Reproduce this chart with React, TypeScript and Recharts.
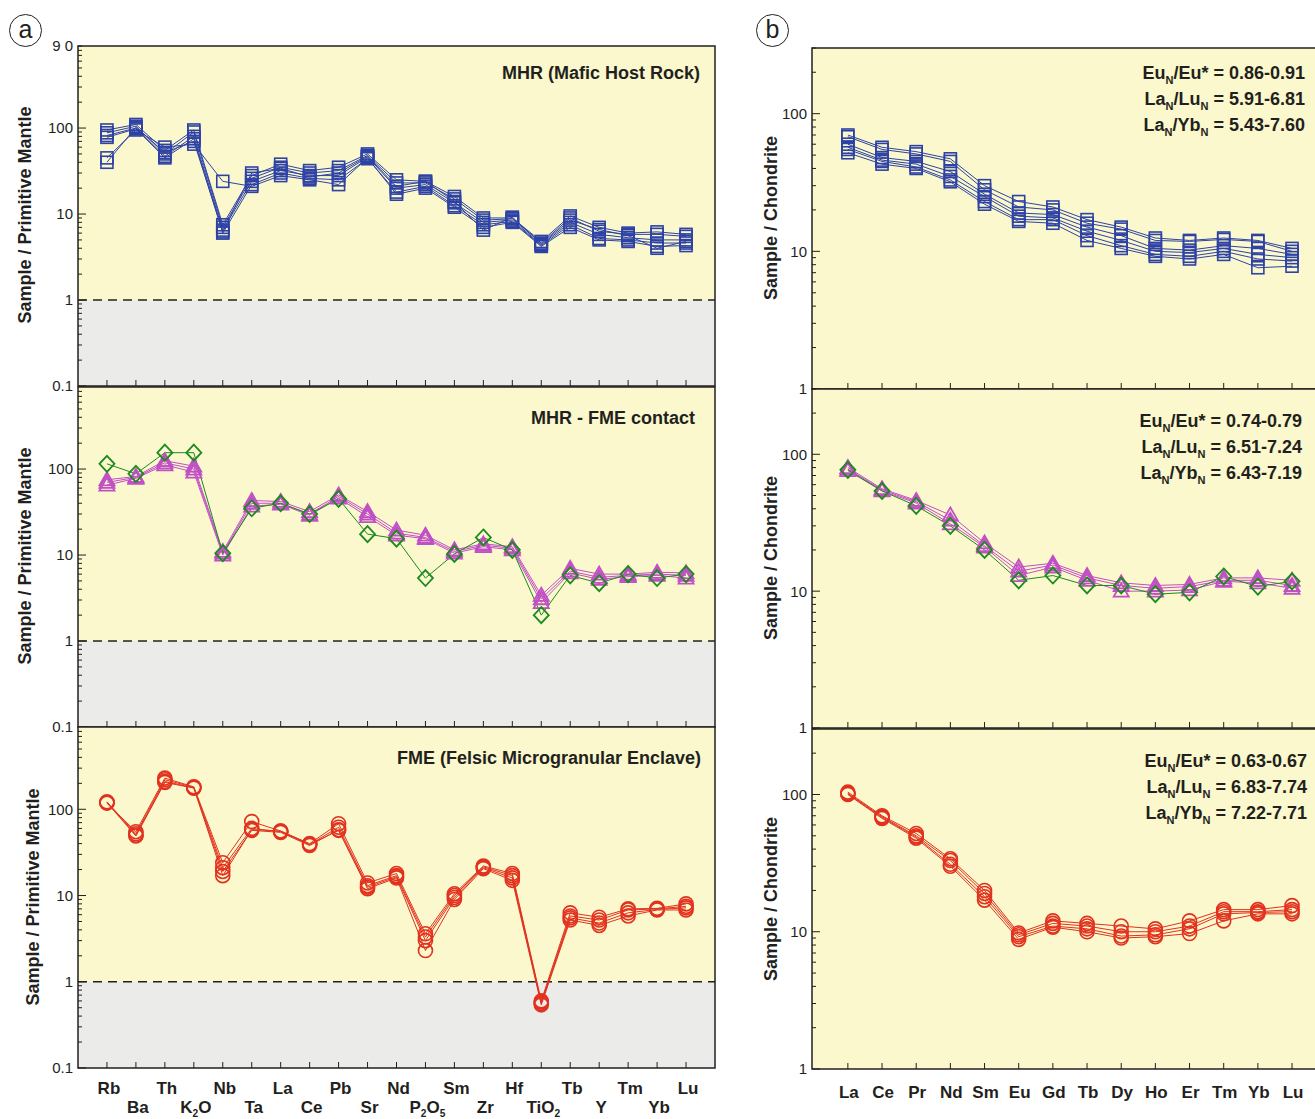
import React from 'react';
import { LineChart, Line, XAxis, YAxis, ReferenceArea, ReferenceLine } from 'recharts';

// ---------- categories ----------
const spiderElements = ['Rb', 'Ba', 'Th', 'K2O', 'Nb', 'Ta', 'La', 'Ce', 'Pb', 'Sr', 'Nd', 'P2O5', 'Sm', 'Zr', 'Hf', 'TiO2', 'Tb', 'Y', 'Tm', 'Yb', 'Lu'];
const reeElements = ['La', 'Ce', 'Pr', 'Nd', 'Sm', 'Eu', 'Gd', 'Tb', 'Dy', 'Ho', 'Er', 'Tm', 'Yb', 'Lu'];

// ---------- tick labels ----------
const spiderMajorTicks = [0.1, 1, 10, 100];
const spiderMajorLabels = ['0.1', '1', '10', '100'];
const spiderMinorTicks = [0.2, 0.3, 0.4, 0.5, 0.6, 0.7, 0.8, 0.9, 2, 3, 4, 5, 6, 7, 8, 9, 20, 30, 40, 50, 60, 70, 80, 90, 200, 300, 400, 500, 600, 700, 800];
const spiderTopTick = 900;
const spiderTopLabel = '9 0';
const reeMajorTicks = [1, 10, 100];
const reeMajorLabels = ['1', '10', '100'];
const reeMinorTicks = [2, 3, 4, 5, 6, 7, 8, 9, 20, 30, 40, 50, 60, 70, 80, 90, 200, 300];

// ---------- MHR spider (primitive mantle normalised) ----------
const mhrSpider1 = [95, 110, 55, 95, 7.5, 28, 38, 32, 35, 50, 25, 24, 16, 9, 9, 4.8, 9.5, 7, 6, 6.2, 5.8];
const mhrSpider2 = [88, 105, 50, 90, 7, 26, 35, 30, 32, 48, 23, 23, 15, 8.5, 8.8, 4.6, 9, 6.3, 5.8, 5.8, 5.5];
const mhrSpider3 = [82, 100, 47, 80, 6.5, 24, 32, 28, 28, 46, 20, 22, 13.5, 8, 8.5, 4.4, 8, 5.8, 5.3, 5, 5];
const mhrSpider4 = [78, 98, 45, 75, 6, 22, 30, 26, 25, 44, 18, 21, 12.5, 7.5, 8.2, 4.3, 7.5, 5.2, 5, 4.6, 4.6];
const mhrSpider5 = [45, 95, 60, 65, 24, 21, 28, 25, 22, 45, 17, 20, 12, 7, 8, 4.2, 7, 5, 4.8, 4.2, 4.3];
const mhrSpider6 = [40, 102, 52, 70, 6.2, 30, 34, 27, 30, 47, 21, 24, 14, 6.5, 9.2, 4.5, 8.5, 6.6, 5.6, 4, 4.8];

// ---------- MHR-FME contact spider ----------
const contactSpiderGreen = [115, 88, 155, 155, 10.5, 35, 40, 30, 45, 17.5, 15.5, 5.4, 10.3, 16, 11.5, 2.0, 5.8, 4.7, 6, 5.4, 6];
const contactSpiderMag1 = [75, 82, 125, 108, 11, 43, 42, 32, 50, 32, 19.5, 17, 11.5, 13.5, 12.5, 3.4, 7, 6, 6, 6.3, 6.2];
const contactSpiderMag2 = [70, 80, 118, 100, 10.5, 40, 40, 30, 48, 30, 18, 16, 11, 13, 12, 3.1, 6.5, 5.5, 5.8, 6, 5.8];
const contactSpiderMag3 = [65, 78, 112, 92, 10, 37, 39, 29, 46, 28, 17, 15.5, 10.5, 12.5, 11.5, 2.8, 6.2, 5.2, 5.6, 5.8, 5.4];

// ---------- FME spider ----------
const fmeSpider1 = [118, 55, 230, 182, 24, 72, 56, 40, 68, 14, 18, 3.6, 10.5, 22, 18, 0.6, 6.3, 5.6, 7, 7.1, 8];
const fmeSpider2 = [122, 52, 220, 180, 21, 60, 55, 39, 62, 13, 17, 3.3, 10, 21.5, 17, 0.58, 5.8, 5.2, 6.8, 7, 7.5];
const fmeSpider3 = [120, 50, 210, 178, 19, 57, 54, 38, 58, 12.5, 16.5, 3.0, 9.5, 21, 16, 0.56, 5.5, 4.8, 6.3, 6.9, 7.2];
const fmeSpider4 = [119, 49, 205, 176, 17, 58, 56, 39, 57, 12, 16, 2.3, 9, 20.5, 15, 0.54, 5.2, 4.5, 5.8, 6.8, 6.8];

// ---------- MHR REE (chondrite normalised) ----------
const mhrRee1 = [70, 57, 53, 47, 30, 23, 21, 17, 15, 12.5, 12, 12.5, 12, 10.5];
const mhrRee2 = [68, 55, 51, 45, 28, 21, 20, 16, 14.5, 12, 11.8, 12.2, 11.8, 10];
const mhrRee3 = [60, 48, 45, 38, 26, 19, 18.5, 15, 13, 10.5, 10.2, 11, 10.5, 9.5];
const mhrRee4 = [57, 46, 43, 35, 25, 18, 17.5, 14, 12, 10, 9.8, 10.5, 9.5, 9];
const mhrRee5 = [55, 45, 41, 33, 23, 17, 17, 13, 11, 9.5, 9.2, 10, 8.8, 8.5];
const mhrRee6 = [52, 43, 40, 32, 22, 16.5, 16, 12, 10.5, 9.2, 8.8, 9.5, 7.6, 7.8];

// ---------- contact REE ----------
const contactReeGreen = [77, 54, 42, 30, 20, 12, 13, 11, 11, 9.5, 9.8, 12.8, 10.8, 11.8];
const contactReeMag1 = [80, 56, 46, 36, 22.5, 15, 16, 13, 11.5, 11, 11.2, 12.5, 12.5, 12];
const contactReeMag2 = [78, 55, 45, 33, 21.5, 14, 15.5, 12.5, 11, 10.5, 10.8, 12, 12, 11];
const contactReeMag3 = [76, 54, 44, 31, 21, 13, 15, 12, 10, 10, 10.2, 11.8, 11.5, 10.5];

// ---------- FME REE ----------
const fmeRee1 = [104, 70, 52, 34, 20, 9.8, 12, 11.5, 11, 10.5, 12, 14.5, 14.5, 15.5];
const fmeRee2 = [102, 69, 50, 33, 19, 9.5, 11.5, 11, 10, 10, 11, 14, 14, 14.5];
const fmeRee3 = [101, 68, 49, 31, 18, 9.2, 11, 10.5, 9.3, 9.5, 10.5, 13.5, 13.8, 14];
const fmeRee4 = [100, 67, 48, 30, 17, 8.8, 10.8, 10, 9, 9.2, 9.7, 12, 13.5, 13.5];

// ---------- styles ----------
const BLUE = '#2E42A6';
const GREEN = '#1B8A1F';
const MAGENTA = '#C14FC6';
const RED = '#E2321F';
const YELLOW = '#FAF8CC';
const GRAY = '#EBECEA';
const INK = '#231F20';
const FONT = '"Liberation Sans", Arial, Helvetica, sans-serif';

type Marker = 'square' | 'diamond' | 'triangle' | 'circle';
type Series = { values: number[]; color: string; marker: Marker };

const makeDot = (marker: Marker, color: string) => (props: any) => {
  const { cx, cy, key, index } = props;
  const k = key ?? `d${index}`;
  if (cx == null || cy == null) return <g key={k} />;
  if (marker === 'square')
    return <rect key={k} x={cx - 6} y={cy - 6} width={12} height={12} fill="none" stroke={color} strokeWidth={1.6} />;
  if (marker === 'diamond')
    return <path key={k} d={`M${cx},${cy - 8}L${cx + 7.5},${cy}L${cx},${cy + 8}L${cx - 7.5},${cy}Z`} fill="none" stroke={color} strokeWidth={1.8} />;
  if (marker === 'triangle')
    return <path key={k} d={`M${cx},${cy - 7.5}L${cx + 7.5},${cy + 5.5}L${cx - 7.5},${cy + 5.5}Z`} fill="none" stroke={color} strokeWidth={1.8} />;
  return <circle key={k} cx={cx} cy={cy} r={7} fill="none" stroke={color} strokeWidth={1.6} />;
};

const chemParts = (label: string) => label.match(/[A-Za-z]+|\d+/g) || [label];

const ChemText = ({ x, y, label, size }: { x: number; y: number; label: string; size: number }) => {
  const parts = chemParts(label);
  let shifted = false;
  return (
    <text x={x} y={y} textAnchor="middle" fontFamily={FONT} fontWeight="bold" fontSize={size} fill={INK}>
      {parts.map((p, j) => {
        const isDigit = /^\d+$/.test(p);
        let dy = 0;
        if (isDigit && !shifted) { dy = 4; shifted = true; }
        else if (!isDigit && shifted) { dy = -4; shifted = false; }
        return (
          <tspan key={j} dy={dy} fontSize={isDigit ? size * 0.6 : size}>{p}</tspan>
        );
      })}
    </text>
  );
};

const makeXTick = (labels: string[], mode: 'none' | 'two' | 'one') => (props: any) => {
  const { x, y, payload, index } = props;
  const i = Math.round(payload.value);
  const label = labels[i];
  let text = null;
  if (mode === 'two') text = <ChemText x={x + 2} y={y + (i % 2 === 0 ? 26 : 45)} label={label} size={17} />;
  if (mode === 'one') text = <ChemText x={x + 1} y={y + 29} label={label} size={17} />;
  return (
    <g key={`xt${index}`}>
      <line x1={x} x2={x} y1={y} y2={y - 6} stroke={INK} strokeWidth={1} />
      {text}
    </g>
  );
};

const makeYTick = (majors: number[], majorLabels: string[], extra?: { v: number; label: string }) => (props: any) => {
  const { x, y, payload, index } = props;
  const v = payload.value;
  let label: string | undefined;
  majors.forEach((m, j) => { if (Math.abs(m - v) / m < 1e-6) label = majorLabels[j]; });
  let len = label !== undefined ? 8 : 4;
  if (extra && Math.abs(extra.v - v) / v < 1e-6) { label = extra.label; len = 4; }
  return (
    <g key={`yt${index}`}>
      <line x1={x} x2={x + len} y1={y} y2={y} stroke={INK} strokeWidth={1} />
      {label !== undefined && (
        <text x={x - 5} y={y} dy="0.36em" textAnchor="end" fontFamily={FONT} fontSize={15} fill={INK}>{label}</text>
      )}
    </g>
  );
};

type PanelProps = {
  left: number; top: number; width: number; height: number; yAxisWidth: number; xAxisHeight: number;
  labels: string[]; xDomain: [number, number]; xMode: 'none' | 'two' | 'one';
  yDomain: [number, number]; yTicks: number[]; majors: number[]; majorLabels: string[];
  extra?: { v: number; label: string }; gray: boolean; series: Series[];
};

function Panel(p: PanelProps) {
  const rows = p.labels.map((el, i) => {
    const r: any = { i, el };
    p.series.forEach((s, k) => { r[`s${k}`] = s.values[i]; });
    return r;
  });
  const xTicks = p.labels.map((_, i) => i);
  return (
    <div style={{ position: 'absolute', left: p.left, top: p.top }}>
      <LineChart width={p.width} height={p.height} data={rows} margin={{ top: 10, right: 2, bottom: 10, left: 0 }}>
        <XAxis dataKey="i" type="number" domain={p.xDomain} ticks={xTicks} interval={0} allowDataOverflow
          axisLine={false} tickLine={false} tickSize={0} tickMargin={0} height={p.xAxisHeight}
          tick={makeXTick(p.labels, p.xMode)} />
        <YAxis type="number" scale="log" domain={p.yDomain} ticks={p.yTicks} interval={0} allowDataOverflow
          axisLine={false} tickLine={false} tickSize={0} tickMargin={0} width={p.yAxisWidth}
          tick={makeYTick(p.majors, p.majorLabels, p.extra)} />
        {p.gray ? (
          <>
            <ReferenceArea x1={p.xDomain[0]} x2={p.xDomain[1]} y1={1} y2={p.yDomain[1]} fill={YELLOW} fillOpacity={1} stroke="none" ifOverflow="visible" />
            <ReferenceArea x1={p.xDomain[0]} x2={p.xDomain[1]} y1={p.yDomain[0]} y2={1} fill={GRAY} fillOpacity={1} stroke="none" ifOverflow="visible" />
            <ReferenceLine y={1} stroke={INK} strokeWidth={1.3} strokeDasharray="9 6" ifOverflow="visible" />
          </>
        ) : (
          <ReferenceArea x1={p.xDomain[0]} x2={p.xDomain[1]} y1={p.yDomain[0]} y2={p.yDomain[1]} fill={YELLOW} fillOpacity={1} stroke="none" ifOverflow="visible" />
        )}
        <ReferenceArea x1={p.xDomain[0]} x2={p.xDomain[1]} y1={p.yDomain[0]} y2={p.yDomain[1]} fill="none" stroke={INK} strokeWidth={1.5} ifOverflow="visible" />
        {p.series.map((s, k) => (
          <Line key={k} dataKey={`s${k}`} stroke={s.color} strokeWidth={1} isAnimationActive={false}
            dot={makeDot(s.marker, s.color)} activeDot={false} type="linear" />
        ))}
      </LineChart>
    </div>
  );
}

const RotLabel = ({ cx, cy, text }: { cx: number; cy: number; text: string }) => (
  <div style={{ position: 'absolute', left: cx, top: cy, transform: 'translate(-50%, -50%) rotate(-90deg)', whiteSpace: 'nowrap', fontFamily: FONT, fontWeight: 'bold', fontSize: 18, color: INK, lineHeight: '20px' }}>{text}</div>
);

const PanelTitle = ({ right, cy, text }: { right: number; cy: number; text: string }) => (
  <div style={{ position: 'absolute', right: 1315 - right, top: cy - 12, whiteSpace: 'nowrap', fontFamily: FONT, fontWeight: 'bold', fontSize: 18, color: INK, lineHeight: '24px' }}>{text}</div>
);

const Sub = ({ t }: { t: string }) => <span style={{ fontSize: 11, position: 'relative', top: 5 }}>{t}</span>;

const Ratios = ({ right, cy, eu, lu, yb }: { right: number; cy: number; eu: string; lu: string; yb: string }) => (
  <div style={{ position: 'absolute', right: 1315 - right, top: cy - 12, whiteSpace: 'nowrap', fontFamily: FONT, fontWeight: 'bold', fontSize: 18, color: INK, lineHeight: '24px', textAlign: 'right' }}>
    <div>Eu<Sub t="N" />/Eu* = {eu}</div>
    <div>La<Sub t="N" />/Lu<Sub t="N" /> = {lu}</div>
    <div>La<Sub t="N" />/Yb<Sub t="N" /> = {yb}</div>
  </div>
);

const CircleTag = ({ cx, cy, t }: { cx: number; cy: number; t: string }) => (
  <div style={{ position: 'absolute', left: cx - 16, top: cy - 16, width: 31, height: 31, border: `1px solid ${INK}`, borderRadius: '50%', fontFamily: FONT, fontSize: 25, lineHeight: '28px', textAlign: 'center', color: INK }}>{t}</div>
);

export default function App() {
  const spiderTicks = [...spiderMajorTicks, ...spiderMinorTicks, spiderTopTick].sort((a, b) => a - b);
  const reeTicks = [...reeMajorTicks, ...reeMinorTicks].sort((a, b) => a - b);
  const leftCommon = {
    left: 0, width: 717, yAxisWidth: 78, labels: spiderElements, xDomain: [-1, 21] as [number, number],
    yDomain: [0.1, 900] as [number, number], yTicks: spiderTicks, majors: spiderMajorTicks, majorLabels: spiderMajorLabels, gray: true,
  };
  const rightCommon = {
    left: 750, width: 570, yAxisWidth: 62, labels: reeElements, xDomain: [-1.05, 13.76] as [number, number],
    yDomain: [1, 300] as [number, number], yTicks: reeTicks, majors: reeMajorTicks, majorLabels: reeMajorLabels, gray: false,
  };
  const topSpider = spiderTicks.filter((v) => v !== spiderTopTick);
  return (
    <div style={{ position: 'absolute', left: 0, top: 0, width: 1315, height: 1119, overflow: 'hidden', background: '#fff' }}>
      {/* left column */}
      <Panel {...leftCommon} top={36} height={361} xAxisHeight={1} xMode="none" extra={{ v: spiderTopTick, label: spiderTopLabel }}
        series={[mhrSpider1, mhrSpider2, mhrSpider3, mhrSpider4, mhrSpider5, mhrSpider6].map((v) => ({ values: v, color: BLUE, marker: 'square' as Marker }))} />
      <Panel {...leftCommon} yTicks={topSpider} top={377} height={361} xAxisHeight={1} xMode="none"
        series={[
          { values: contactSpiderMag1, color: MAGENTA, marker: 'triangle' },
          { values: contactSpiderMag2, color: MAGENTA, marker: 'triangle' },
          { values: contactSpiderMag3, color: MAGENTA, marker: 'triangle' },
          { values: contactSpiderGreen, color: GREEN, marker: 'diamond' },
        ]} />
      <Panel {...leftCommon} yTicks={topSpider} top={717} height={411} xAxisHeight={50} xMode="two"
        series={[fmeSpider1, fmeSpider2, fmeSpider3, fmeSpider4].map((v) => ({ values: v, color: RED, marker: 'circle' as Marker }))} />

      {/* right column */}
      <Panel {...rightCommon} top={38} height={362} xAxisHeight={1} xMode="none"
        series={[mhrRee1, mhrRee2, mhrRee3, mhrRee4, mhrRee5, mhrRee6].map((v) => ({ values: v, color: BLUE, marker: 'square' as Marker }))} />
      <Panel {...rightCommon} top={379} height={360} xAxisHeight={1} xMode="none"
        series={[
          { values: contactReeMag1, color: MAGENTA, marker: 'triangle' },
          { values: contactReeMag2, color: MAGENTA, marker: 'triangle' },
          { values: contactReeMag3, color: MAGENTA, marker: 'triangle' },
          { values: contactReeGreen, color: GREEN, marker: 'diamond' },
        ]} />
      <Panel {...rightCommon} top={719} height={410} xAxisHeight={50} xMode="one"
        series={[fmeRee1, fmeRee2, fmeRee3, fmeRee4].map((v) => ({ values: v, color: RED, marker: 'circle' as Marker }))} />

      {/* axis titles */}
      <RotLabel cx={25} cy={215} text="Sample / Primitive Mantle" />
      <RotLabel cx={25} cy={556} text="Sample / Primitive Mantle" />
      <RotLabel cx={33} cy={897} text="Sample / Primitive Mantle" />
      <RotLabel cx={771} cy={218} text="Sample / Chondrite" />
      <RotLabel cx={771} cy={558} text="Sample / Chondrite" />
      <RotLabel cx={771} cy={899} text="Sample / Chondrite" />

      {/* panel titles */}
      <PanelTitle right={700} cy={73} text="MHR (Mafic Host Rock)" />
      <PanelTitle right={695} cy={418} text="MHR - FME contact" />
      <PanelTitle right={701} cy={758} text="FME (Felsic Microgranular Enclave)" />

      <Ratios right={1305} cy={73} eu="0.86-0.91" lu="5.91-6.81" yb="5.43-7.60" />
      <Ratios right={1302} cy={421} eu="0.74-0.79" lu="6.51-7.24" yb="6.43-7.19" />
      <Ratios right={1307} cy={761} eu="0.63-0.67" lu="6.83-7.74" yb="7.22-7.71" />

      <CircleTag cx={25} cy={30} t="a" />
      <CircleTag cx={772} cy={30} t="b" />
    </div>
  );
}
